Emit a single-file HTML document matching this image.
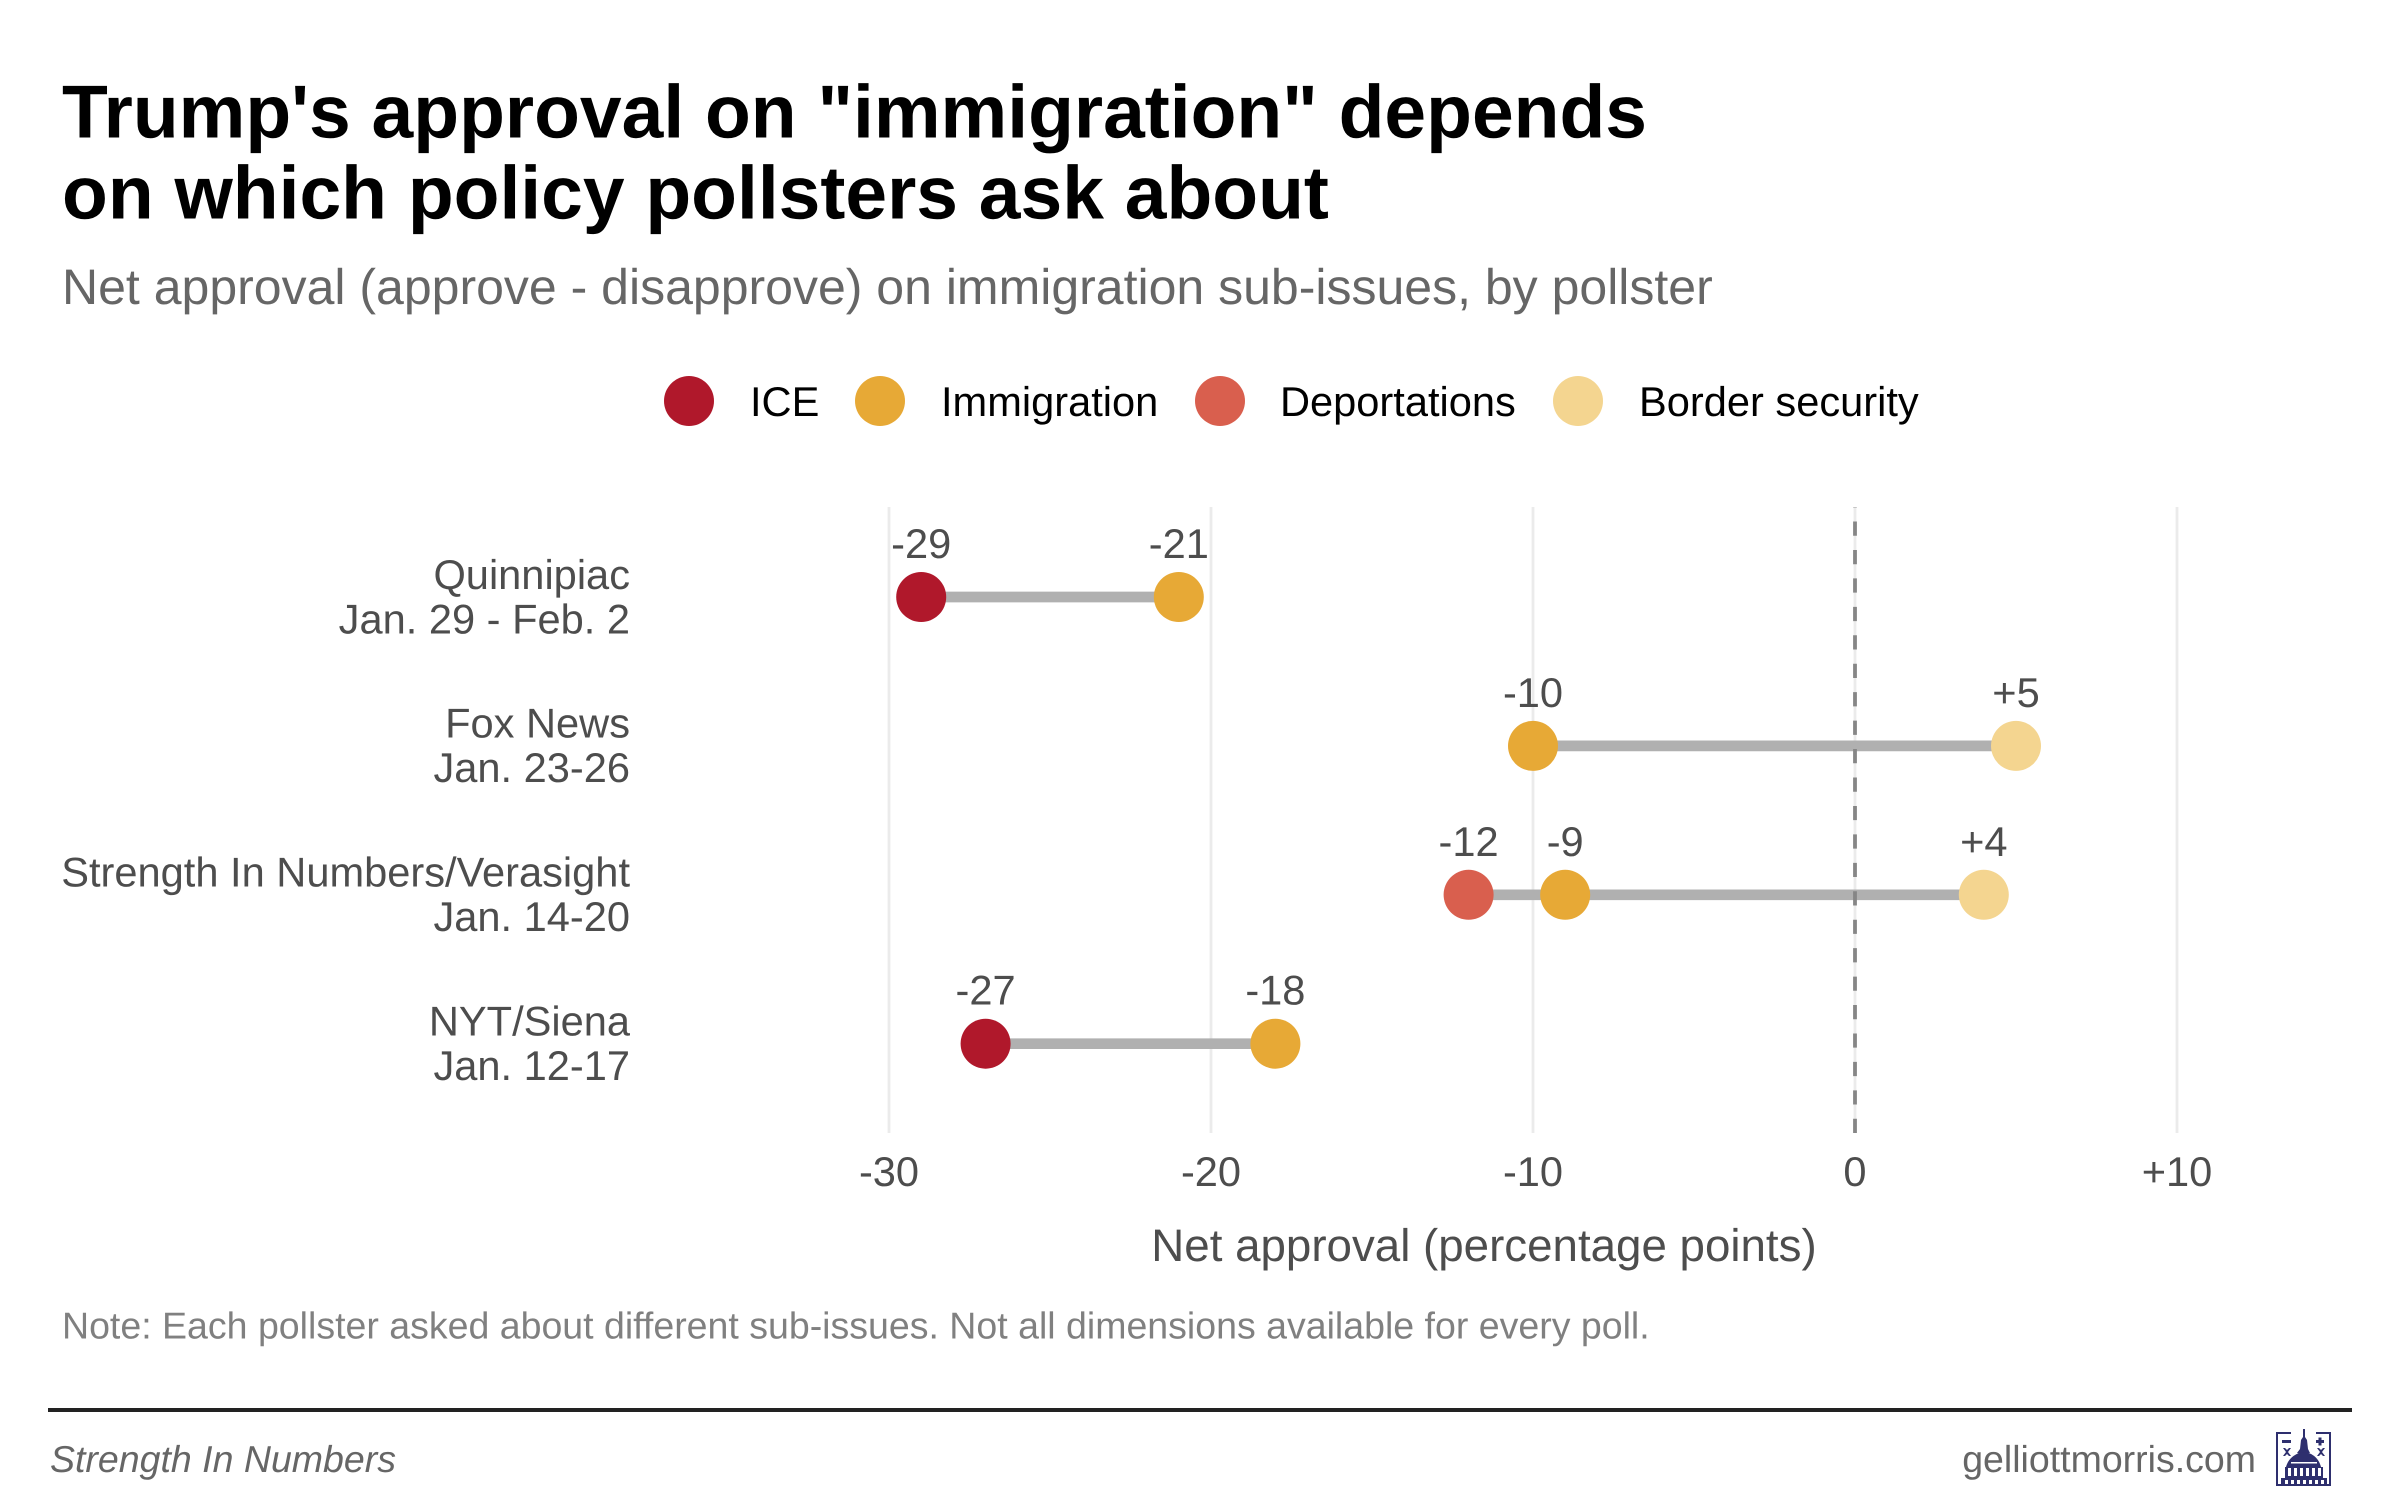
<!DOCTYPE html>
<html lang="en">
<head>
<meta charset="utf-8">
<title>Trump's approval on immigration</title>
<style>
html,body{margin:0;padding:0;background:#fff;}
body{width:2400px;height:1500px;overflow:hidden;position:relative;}
svg{display:block;position:absolute;left:0;top:0;}
text{font-family:"Liberation Sans",Arial,sans-serif;text-rendering:geometricPrecision;}
</style>
</head>
<body>
<svg id="chart" width="2400" height="1500" viewBox="0 0 2400 1500" xmlns="http://www.w3.org/2000/svg">
  <text x="62" y="137.5" font-size="75" font-weight="700" fill="#000">Trump's approval on "immigration" depends</text>
  <text x="62" y="218.5" font-size="75" font-weight="700" fill="#000">on which policy pollsters ask about</text>
  <text x="62" y="304" font-size="50" fill="#666666">Net approval (approve - disapprove) on immigration sub-issues, by pollster</text>
  <g id="legend"></g>
  <g id="grid"></g>
  <g id="marks"></g>
  <g id="axis"></g>
  <text x="1484" y="1261" font-size="45.7" text-anchor="middle" fill="#4d4d4d">Net approval (percentage points)</text>
  <text x="62" y="1338.5" font-size="37.5" fill="#808080">Note: Each pollster asked about different sub-issues. Not all dimensions available for every poll.</text>
  <rect x="48" y="1408" width="2304" height="4" fill="#222222"/>
  <text x="50" y="1472" font-size="37.5" font-style="italic" fill="#666666">Strength In Numbers</text>
  <text x="2256" y="1472" font-size="37.5" text-anchor="end" fill="#666666">gelliottmorris.com</text>
  <g fill="#2e2f6e" stroke="none">
    <path d="M2276 1432h15v2h-13v50h51v-50h-13v-2h15v54h-55z"/>
    <rect x="2282" y="1440" width="9" height="3"/>
    <rect x="2316" y="1440" width="8" height="3"/><rect x="2318.5" y="1437.5" width="3" height="8"/>
    <path d="M2283 1448l2 0 2 2 2-2 2 0-3 4 3 4-2 0-2-2-2 2-2 0 3-4z"/>
    <path d="M2317 1448l2 0 2 2 2-2 2 0-3 4 3 4-2 0-2-2-2 2-2 0 3-4z"/>
    <path d="M2303 1429h2v8l2 3 1 9 2 4-5 1h-4l-4-1 3-4 1-9 2-3z"/>
    <path d="M2304 1452c9 1 15 7 17 15h-35c2-8 9-14 18-15z"/>
    <path d="M2285 1467h38v11h-38z"/>
    <path d="M2281 1478h46v6h-46z"/>
    <g fill="#ffffff">
      <rect x="2288" y="1468" width="3" height="8"/><rect x="2294" y="1468" width="3" height="8"/><rect x="2300" y="1468" width="3" height="8"/><rect x="2306" y="1468" width="3" height="8"/><rect x="2312" y="1468" width="3" height="8"/><rect x="2318" y="1468" width="3" height="8"/>
      <rect x="2285" y="1480" width="3" height="4"/><rect x="2291" y="1480" width="3" height="4"/><rect x="2297" y="1480" width="3" height="4"/><rect x="2303" y="1480" width="3" height="4"/><rect x="2309" y="1480" width="3" height="4"/><rect x="2315" y="1480" width="3" height="4"/><rect x="2321" y="1480" width="3" height="4"/>
      <rect x="2291" y="1462" width="26" height="1.5"/>
    </g>
  </g>
</svg>
<script>
var pollsters = ["Quinnipiac", "Fox News", "Strength In Numbers/Verasight", "NYT/Siena"];
var pollDates = ["Jan. 29 - Feb. 2", "Jan. 23-26", "Jan. 14-20", "Jan. 12-17"];
var seriesNames = ["ICE", "Immigration", "Deportations", "Border security"];
var iceValues = [-29, null, null, -27];
var immigrationValues = [-21, -10, -9, -18];
var deportationValues = [null, null, -12, null];
var borderValues = [null, 5, 4, null];
var xTickValues = [-30, -20, -10, 0, 10];
var xTickLabels = ["-30", "-20", "-10", "0", "+10"];

var seriesColors = ["#b0182b", "#e7a936", "#d95f4e", "#f4d590"];
var allSeries = [iceValues, immigrationValues, deportationValues, borderValues];
var svgNS = "http://www.w3.org/2000/svg";

function xScale(v) { return 1855 + v * 32.2; }
function yScale(i) { return 597 + i * 148.9; }
function fmt(v) { return (v > 0 ? "+" : "") + v; }
function add(parent, tag, attrs, txt) {
  var el = document.createElementNS(svgNS, tag);
  for (var k in attrs) { el.setAttribute(k, attrs[k]); }
  if (txt !== undefined) { el.textContent = txt; }
  parent.appendChild(el);
  return el;
}

var gridG = document.getElementById("grid");
var marksG = document.getElementById("marks");
var axisG = document.getElementById("axis");
var legendG = document.getElementById("legend");

xTickValues.forEach(function (t, i) {
  var g = add(gridG, "line", { x1: xScale(t), x2: xScale(t), y1: 507, y2: 1133, stroke: "#ebebeb", "stroke-width": 2.8 });
  
  
  var tl = add(axisG, "text", { x: xScale(t), y: 1186, "font-size": 41.6, "text-anchor": "middle", fill: "#4d4d4d" }, xTickLabels[i]);
  
  
});

pollsters.forEach(function (name, i) {
  var l1 = add(axisG, "text", { x: 630, y: yScale(i) - 8.2, "font-size": 41.6, "text-anchor": "end", fill: "#4d4d4d" }, name);
  
  
  var l2 = add(axisG, "text", { x: 630, y: yScale(i) + 36.3, "font-size": 41.6, "text-anchor": "end", fill: "#4d4d4d" }, pollDates[i]);
  
  

  var vals = allSeries.map(function (s) { return s[i]; }).filter(function (v) { return v !== null; });
  var lo = Math.min.apply(null, vals);
  var hi = Math.max.apply(null, vals);
  var seg = add(marksG, "line", { x1: xScale(lo), x2: xScale(hi), y1: yScale(i), y2: yScale(i), stroke: "#b0b0b0", "stroke-width": 10.7 });
  
  
});

var zero = add(marksG, "line", { x1: xScale(0), x2: xScale(0), y1: 1133, y2: 507, stroke: "#868686", "stroke-width": 3.8, "stroke-dasharray": "14.22 14.22" });



allSeries.forEach(function (series, s) {
  series.forEach(function (v, i) {
    if (v === null) { return; }
    var dot = add(marksG, "circle", { cx: xScale(v), cy: yScale(i), r: 25, fill: seriesColors[s] });
    
    
    var lab = add(marksG, "text", { x: xScale(v), y: yScale(i) - 39, "font-size": 41.6, "text-anchor": "middle", fill: "#4d4d4d" }, fmt(v));
    
    
  });
});

var legendDotX = [689, 880, 1220, 1578];
var legendTextX = [750, 941, 1280, 1639];
seriesNames.forEach(function (n, s) {
  var d = add(legendG, "circle", { cx: legendDotX[s], cy: 401, r: 25, fill: seriesColors[s] });
  
  
  var t = add(legendG, "text", { x: legendTextX[s], y: 416, "font-size": 41.6, fill: "#000" }, n);
  
  
});
</script>
</body>
</html>
